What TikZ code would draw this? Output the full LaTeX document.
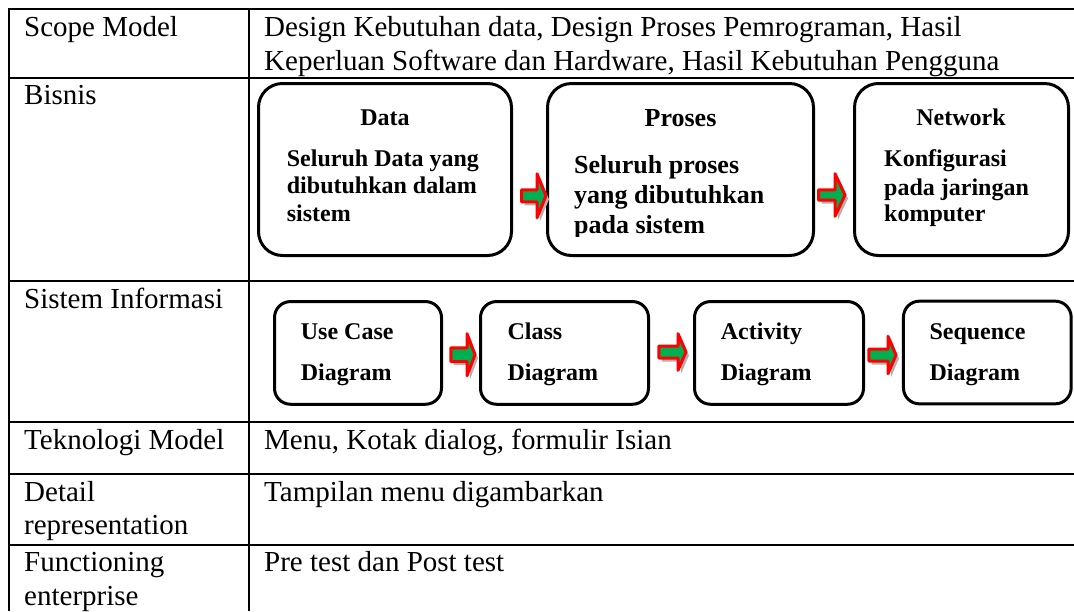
\documentclass[tikz,border=0pt]{standalone}
\usepackage{fontspec}
\setmainfont{Liberation Serif}
\definecolor{arrgreen}{HTML}{00B050}
\definecolor{arrred}{HTML}{FF0000}
% block arrow: #1 x start, #2 x head start, #3 x tip, #4 y centre, #5 shaft half height, #6 head half height
\newcommand\blockarr[6]{%
  \fill[black!30, shift={(3,3.5)}] (#1,#4-#5) -- (#2,#4-#5) -- (#2,#4-#6) -- (#3,#4) -- (#2,#4+#6) -- (#2,#4+#5) -- (#1,#4+#5) -- cycle;
  \filldraw[draw=arrred, fill=arrgreen, line width=3pt, line join=round] (#1,#4-#5) -- (#2,#4-#5) -- (#2,#4-#6) -- (#3,#4) -- (#2,#4+#6) -- (#2,#4+#5) -- (#1,#4+#5) -- cycle;
}
\begin{document}
\begin{tikzpicture}[x=1pt,y=-1pt,
  tline/.style={line width=2pt},
  bigbox/.style={draw, line width=3pt, rounded corners=24pt, inner sep=0pt, fill=white},
  smallbox/.style={draw, line width=3pt, rounded corners=16pt, inner sep=0pt, fill=white},
  cell/.style={anchor=base west, inner sep=0pt, font=\fontsize{29}{34}\selectfont},
  btxt/.style={anchor=base west, inner sep=0pt, font=\bfseries\fontsize{24}{28}\selectfont},
  bhead/.style={anchor=base, inner sep=0pt, font=\bfseries\fontsize{24}{28}\selectfont},
  ptxt/.style={anchor=base west, inner sep=0pt, font=\bfseries\fontsize{26}{30}\selectfont},
  phead/.style={anchor=base, inner sep=0pt, font=\bfseries\fontsize{26}{30}\selectfont},
]
\fill[white] (0,0) rectangle (1074,611);
\useasboundingbox (0,0) rectangle (1074,611);

% table grid
\draw[tline] (8.5,611) -- (8.5,9) -- (1074,9);
\draw[tline] (249,9) -- (249,611);
\foreach \yy in {77.7,281,421.7,474,545} {\draw[tline] (8.5,\yy) -- (1074,\yy);}

% left column labels
\node[cell] (lscope) at (24,36) {Scope Model};
\node[cell] (lbis) at (24,104.7) {Bisnis};
\node[cell] (lsis) at (24,308) {Sistem Informasi};
\node[cell] (ltek) at (24,449) {Teknologi Model};
\node[cell] (ldet1) at (24,501) {Detail};
\node[cell] (ldet2) at (24,534.5) {representation};
\node[cell] (lfun1) at (24,571.7) {Functioning};
\node[cell] (lfun2) at (24,605) {enterprise};

% right column texts
\node[cell] (rscope1) at (264,36) {Design Kebutuhan data, Design Proses Pemrograman, Hasil};
\node[cell] (rscope2) at (264,70.7) {Keperluan Software dan Hardware, Hasil Kebutuhan Pengguna};
\node[cell] (rtek) at (264,449) {Menu, Kotak dialog, formulir Isian};
\node[cell] (rdet) at (264,501) {Tampilan menu digambarkan};
\node[cell] (rfun) at (264,571.7) {Pre test dan Post test};

% Bisnis row boxes
\node[bigbox, minimum width=253pt, minimum height=172pt] (data) at (385,169.5) {};
\node[bigbox, minimum width=266pt, minimum height=172pt] (proses) at (680.5,169.5) {};
\node[bigbox, minimum width=214pt, minimum height=172pt] (network) at (961.5,169.5) {};

\node[bhead] (dataH) at (385,125) {Data};
\node[btxt] (dataL1) at (286.7,166.7) {Seluruh Data yang};
\node[btxt] (dataL2) at (286.7,193.3) {dibutuhkan dalam};
\node[btxt] (dataL3) at (286.7,221.7) {sistem};

\node[phead] (prosesH) at (680.5,126.7) {Proses};
\begin{scope}
  \clip (546,82) rectangle (815,236);
  \node[ptxt] (prosesL1) at (574,173) {Seluruh proses};
  \node[ptxt] (prosesL2) at (574,203.3) {yang dibutuhkan};
  \node[ptxt] (prosesL3) at (574,233.5) {pada sistem};
\end{scope}

\node[bhead] (netH) at (961,125) {Network};
\node[btxt] (netL1) at (884,166.7) {Konfigurasi};
\node[btxt] (netL2) at (884,195) {pada jaringan};
\node[btxt] (netL3) at (884,221.7) {komputer};

\blockarr{521.5}{537}{546}{195.8}{6}{22}
\blockarr{818.5}{835}{845}{195}{5.2}{21.3}

% Sistem Informasi row boxes
\node[smallbox, minimum width=167pt, minimum height=102.7pt] (usecase) at (358,352.9) {};
\node[smallbox, minimum width=168pt, minimum height=102.7pt] (class) at (564.5,352.9) {};
\node[smallbox, minimum width=169pt, minimum height=102.7pt] (activity) at (779,352.9) {};
\node[smallbox, minimum width=167.7pt, minimum height=102.7pt] (sequence) at (987.3,352.5) {};

\node[btxt] (ucL1) at (300.7,339) {Use Case};
\node[btxt] (ucL2) at (300.7,380) {Diagram};
\node[btxt] (clL1) at (507.3,339) {Class};
\node[btxt] (clL2) at (507.3,380) {Diagram};
\node[btxt] (acL1) at (720.7,339) {Activity};
\node[btxt] (acL2) at (720.7,380) {Diagram};
\node[btxt] (sqL1) at (929.3,339) {Sequence};
\node[btxt] (sqL2) at (929.3,380.5) {Diagram};

\blockarr{450.8}{467}{475}{354.7}{6.8}{21}
\blockarr{658.8}{678}{686}{352}{6}{18.3}
\blockarr{868.8}{888}{896}{355}{6}{18.7}
\end{tikzpicture}
\end{document}
